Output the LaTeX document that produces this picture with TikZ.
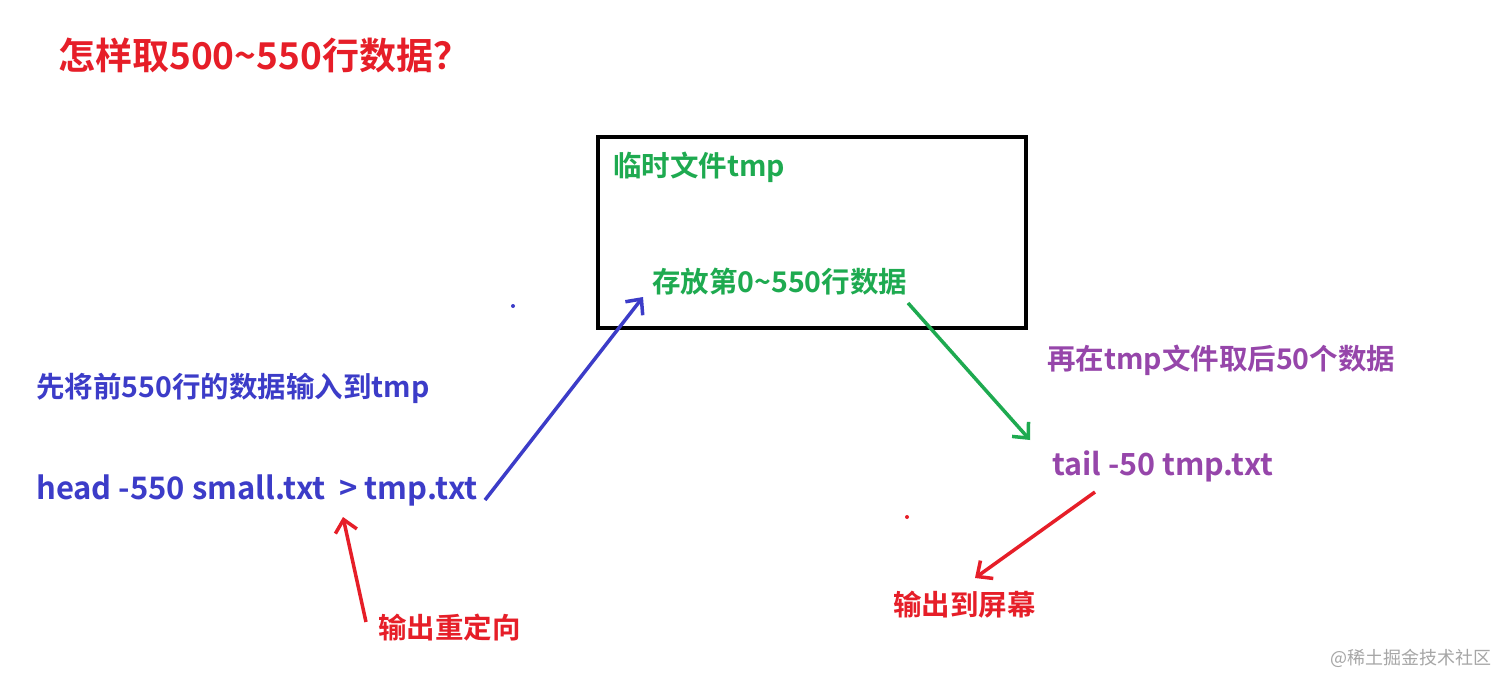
\documentclass[tikz,border=0pt]{standalone}
\usepackage{fontspec}
\setmainfont{Noto Sans CJK SC}[BoldFont={* Bold}]
\usetikzlibrary{arrows.meta}
\definecolor{cr}{RGB}{230,30,40}
\definecolor{cb}{RGB}{60,60,200}
\definecolor{cg}{RGB}{30,170,80}
\definecolor{cp}{RGB}{150,70,170}
\begin{document}
\begin{tikzpicture}[x=1pt,y=-1pt,
  lbl/.style={anchor=west,inner sep=0pt,font=\bfseries\fontsize{28.5}{32}\selectfont},
  arr/.style={line width=3.5pt,-{Straight Barb[length=12pt,width=22pt,line width=3.5pt]}}]
\useasboundingbox[fill=white] (0,0) rectangle (1499,674);
\node[lbl,cr,font=\bfseries\fontsize{37}{41}\selectfont] (title) at (58,55) {怎样取500\textasciitilde550行数据？};
\draw[line width=4pt] (598,137) rectangle (1026,328);
\node[lbl,cg] (tmp) at (613,167) {临时文件tmp};
\node[lbl,cg] (store) at (652,282) {存放第0\textasciitilde550行数据};
\fill[cb] (513,306) circle (2);
\fill[cr] (907,517) circle (2);
\node[lbl,cb] (first) at (36,388) {先将前550行的数据输入到tmp};
\node[lbl,cb,font=\bfseries\fontsize{31}{35}\selectfont] (head) at (36,490) {head -550 small.txt\ \ > tmp.txt};
\node[lbl,cp] (again) at (1047,360) {再在tmp文件取后50个数据};
\node[lbl,cp,font=\bfseries\fontsize{30.5}{35}\selectfont] (tail) at (1052,466) {tail -50 tmp.txt};
\node[lbl,cr] (screen) at (893,605) {输出到屏幕};
\node[lbl,cr] (redir) at (378,628) {输出重定向};
\coordinate (b1) at (485,500); \coordinate (b2) at (643,297);
\coordinate (g1) at (908,303); \coordinate (g2) at (1030,440);
\coordinate (r1) at (1095,492); \coordinate (r2) at (975,578);
\coordinate (s1) at (366,622); \coordinate (s2) at (343,517);
\draw[arr,cb] (b1) -- (b2);
\draw[arr,cg] (g1) -- (g2);
\draw[arr,cr] (r1) -- (r2);
\draw[arr,cr] (s1) -- (s2);
\node[anchor=west,inner sep=0pt,text=gray!70,font=\fontsize{18}{20}\selectfont] (wm) at (1330,658) {@稀土掘金技术社区};
\end{tikzpicture}
\end{document}
